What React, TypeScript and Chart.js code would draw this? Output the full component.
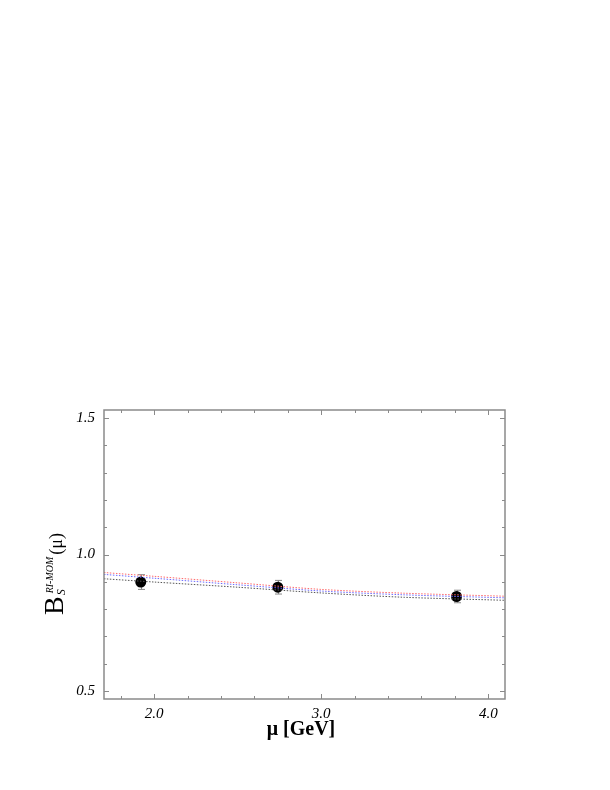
import React, { useEffect, useRef } from "react";
import { Chart, registerables } from "chart.js";

Chart.register(...registerables);

// Data
const muPoints = [1.92, 2.74, 3.81];
const bsValues = [0.899, 0.880, 0.846];
const bsErrors = [0.027, 0.025, 0.023];

const curveMu = [1.7, 2.0, 2.5, 3.0, 3.5, 4.1];
const curveRed = [0.934, 0.920, 0.896, 0.872, 0.858, 0.847];
const curveBlue = [0.927, 0.913, 0.889, 0.866, 0.852, 0.841];
const curveBlack = [0.911, 0.899, 0.880, 0.859, 0.843, 0.832];

const xMajorTicks = [2.0, 3.0, 4.0];
const xMinorTicks = [1.8, 2.2, 2.4, 2.6, 2.8, 3.2, 3.4, 3.6, 3.8];
const yMajorTicks = [0.5, 1.0, 1.5];
const yMinorTicks = [0.6, 0.7, 0.8, 0.9, 1.1, 1.2, 1.3, 1.4];

const xTitle = "μ [GeV]";

const framePlugin = {
  id: "framePlugin",
  beforeDatasetsDraw(chart: any) {
    const { ctx, scales } = chart;
    const xs = scales.x;
    const ys = scales.y;
    ctx.save();
    ctx.strokeStyle = "#888888";
    ctx.lineWidth = 1;
    for (let i = 0; i < muPoints.length; i++) {
      const px = Math.round(xs.getPixelForValue(muPoints[i])) + 0.5;
      const top = ys.getPixelForValue(bsValues[i] + bsErrors[i]);
      const bot = ys.getPixelForValue(bsValues[i] - bsErrors[i]);
      ctx.beginPath();
      ctx.moveTo(px, top);
      ctx.lineTo(px, bot);
      ctx.moveTo(px - 3.5, top);
      ctx.lineTo(px + 3.5, top);
      ctx.moveTo(px - 3.5, bot);
      ctx.lineTo(px + 3.5, bot);
      ctx.stroke();
    }
    ctx.restore();
  },
  afterDraw(chart: any) {
    const { ctx, chartArea: a, scales } = chart;
    const xs = scales.x;
    const ys = scales.y;
    ctx.save();
    ctx.strokeStyle = "#8a8a8a";
    ctx.lineWidth = 1.5;
    ctx.strokeRect(a.left, a.top, a.right - a.left, a.bottom - a.top);
    ctx.lineWidth = 1;
    ctx.beginPath();
    const drawX = (v: number, len: number) => {
      const px = Math.round(xs.getPixelForValue(v)) + 0.5;
      ctx.moveTo(px, a.bottom);
      ctx.lineTo(px, a.bottom - len);
      ctx.moveTo(px, a.top);
      ctx.lineTo(px, a.top + len);
    };
    const drawY = (v: number, len: number) => {
      const py = Math.round(ys.getPixelForValue(v)) + 0.5;
      ctx.moveTo(a.left, py);
      ctx.lineTo(a.left + len, py);
      ctx.moveTo(a.right, py);
      ctx.lineTo(a.right - len, py);
    };
    xMajorTicks.forEach((v) => drawX(v, 5));
    xMinorTicks.forEach((v) => drawX(v, 3));
    yMajorTicks.forEach((v) => drawY(v, 5));
    yMinorTicks.forEach((v) => drawY(v, 3));
    ctx.stroke();

    // x title
    ctx.fillStyle = "#000";
    ctx.font = "bold 20px 'Liberation Serif', serif";
    ctx.textAlign = "center";
    ctx.textBaseline = "alphabetic";
    ctx.fillText(xTitle, 301, 735);

    // y title (rotated)
    ctx.translate(63, 615);
    ctx.rotate(-Math.PI / 2);
    ctx.textAlign = "left";
    ctx.font = "28px 'Liberation Serif', serif";
    ctx.fillText("B", 0, 0);
    const bw = ctx.measureText("B").width;
    ctx.font = "italic 12px 'Liberation Serif', serif";
    ctx.fillText("S", bw + 1, 2);
    ctx.font = "italic 10px 'Liberation Serif', serif";
    ctx.fillText("RI-MOM", bw + 3, -10);
    const sw = ctx.measureText("RI-MOM").width;
    ctx.font = "18px 'Liberation Serif', serif";
    ctx.fillText("(μ)", bw + 3 + sw + 2, -1);
    ctx.restore();
  },
};

export default function App() {
  const ref = useRef<HTMLCanvasElement | null>(null);
  useEffect(() => {
    if (!ref.current) return;
    const tickFont = { family: "'Liberation Serif', serif", size: 15, style: "italic" as const };
    const mkLine = (data: number[], color: string) => ({
      type: "line" as const,
      data: curveMu.map((x, i) => ({ x, y: data[i] })),
      borderColor: color,
      borderWidth: 1,
      borderDash: [1.5, 1.5],
      pointRadius: 0,
      tension: 0.3,
      fill: false,
    });
    const chart = new Chart(ref.current, {
      type: "scatter",
      data: {
        datasets: [
          mkLine(curveRed, "#ff6a6a"),
          mkLine(curveBlue, "#6a6aff"),
          mkLine(curveBlack, "#555555"),
          {
            type: "scatter" as const,
            data: muPoints.map((x, i) => ({ x, y: bsValues[i] })),
            backgroundColor: "#000",
            borderColor: "#000",
            borderWidth: 0,
            pointRadius: 5.5,
            pointHoverRadius: 5.5,
          },
        ] as any,
      },
      options: {
        animation: false,
        responsive: false,
        maintainAspectRatio: false,
        layout: { padding: { left: 0, top: 410, right: 105, bottom: 0 } },
        plugins: { legend: { display: false }, tooltip: { enabled: false } },
        scales: {
          x: {
            type: "linear",
            min: 1.7,
            max: 4.1,
            afterBuildTicks: (s: any) => {
              s.ticks = xMajorTicks.map((v) => ({ value: v }));
            },
            afterFit: (s: any) => {
              s.height = 91;
            },
            grid: { display: false, drawTicks: false },
            border: { display: false },
            ticks: {
              font: tickFont,
              color: "#000",
              padding: 6,
              maxRotation: 0,
              callback: (v: any) => Number(v).toFixed(1),
            },
          },
          y: {
            type: "linear",
            min: 0.47,
            max: 1.53,
            afterBuildTicks: (s: any) => {
              s.ticks = yMajorTicks.map((v) => ({ value: v }));
            },
            afterFit: (s: any) => {
              s.width = 104;
            },
            grid: { display: false, drawTicks: false },
            border: { display: false },
            ticks: {
              font: tickFont,
              color: "#000",
              padding: 9,
              callback: (v: any) => Number(v).toFixed(1),
            },
          },
        },
      } as any,
      plugins: [framePlugin],
    });
    return () => chart.destroy();
  }, []);
  return (
    <div style={{ position: "absolute", left: 0, top: 0, width: 610, height: 790, background: "#fff" }}>
      <canvas ref={ref} width={610} height={790} style={{ width: 610, height: 790 }} />
    </div>
  );
}
